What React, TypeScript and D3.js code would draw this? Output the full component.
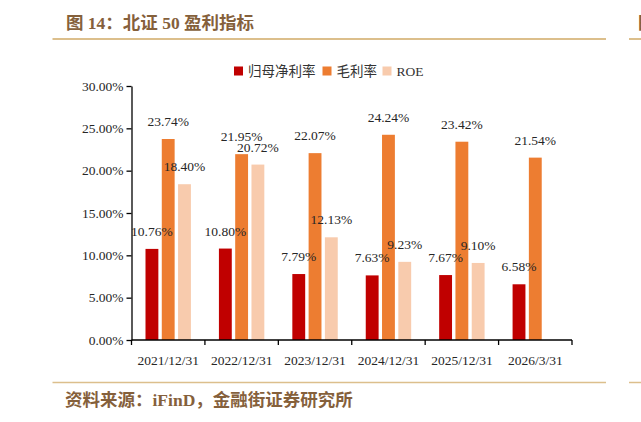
import React, { useEffect, useRef } from 'react';
import * as d3 from 'd3';

const categories = ['2021/12/31', '2022/12/31', '2023/12/31', '2024/12/31', '2025/12/31', '2026/3/31'];
const seriesNames = ['归母净利率', '毛利率', 'ROE'];
const netMargin = [10.76, 10.8, 7.79, 7.63, 7.67, 6.58];
const grossMargin = [23.74, 21.95, 22.07, 24.24, 23.42, 21.54];
const roe: (number | null)[] = [18.4, 20.72, 12.13, 9.23, 9.1, null];
const yTicks = [0, 5, 10, 15, 20, 25, 30];
const colors = ['#C00000', '#ED7D31', '#F8CBAD'];

const W = 641;
const H = 422;
const SERIF = '"Liberation Serif", "Times New Roman", "Noto Sans CJK SC", serif';
const BROWN = '#85603b';
const RULE = '#dcbf8c';

const App = () => {
    const svgRef = useRef(null);

    useEffect(() => {
        document.body.style.margin = '0';
        const svg = d3.select(svgRef.current);
        svg.selectAll('*').remove();

        const left = 131.5, right = 572, top = 86, bottom = 340;

        const x0 = d3.scaleBand<string>().domain(categories).range([left, right]);
        const x1 = d3.scaleBand<string>()
            .domain(seriesNames)
            .range([14, x0.bandwidth() - 14])
            .paddingInner(0.21);
        const y = d3.scaleLinear().domain([0, 30]).range([bottom, top]);

        // header / footer rules
        svg.append('text')
            .attr('x', 66).attr('y', 28.5)
            .attr('font-family', SERIF).attr('font-size', 17.5).attr('font-weight', 'bold')
            .attr('fill', BROWN)
            .text('图 14：北证 50 盈利指标');
        svg.append('text')
            .attr('x', 638).attr('y', 28.5)
            .attr('font-family', SERIF).attr('font-size', 17.5).attr('font-weight', 'bold')
            .attr('fill', BROWN)
            .text('图');
        [[52.5, 606], [629, 641]].forEach(([a, b]) => {
            svg.append('line').attr('x1', a).attr('x2', b).attr('y1', 39).attr('y2', 39)
                .attr('stroke', RULE).attr('stroke-width', 2);
            svg.append('line').attr('x1', a).attr('x2', b).attr('y1', 382.5).attr('y2', 382.5)
                .attr('stroke', RULE).attr('stroke-width', 1.5);
        });
        svg.append('text')
            .attr('x', 65).attr('y', 406)
            .attr('font-family', SERIF).attr('font-size', 17.5).attr('font-weight', 'bold')
            .attr('fill', BROWN)
            .text('资料来源：iFinD，金融街证券研究所');

        // legend
        const legendX = [234, 322.5, 382.5];
        seriesNames.forEach((name, i) => {
            svg.append('rect')
                .attr('x', legendX[i]).attr('y', 66.5)
                .attr('width', 9).attr('height', 9)
                .attr('fill', colors[i]);
            svg.append('text')
                .attr('x', legendX[i] + 14).attr('y', 76)
                .attr('font-family', SERIF).attr('font-size', 13.5)
                .attr('fill', '#333')
                .text(name);
        });

        const g = svg.append('g');

        // bars + labels
        const seriesValues = [netMargin, grossMargin, roe];
        seriesValues.forEach((vals, si) => {
            categories.forEach((c, ci) => {
                const v = vals[ci];
                if (v == null) return;
                const bx = (x0(c) as number) + (x1(seriesNames[si]) as number);
                g.append('rect')
                    .attr('x', bx).attr('y', y(v))
                    .attr('width', x1.bandwidth()).attr('height', y(0) - y(v))
                    .attr('fill', colors[si]);
            });
        });
        seriesValues.forEach((vals, si) => {
            categories.forEach((c, ci) => {
                const v = vals[ci];
                if (v == null) return;
                const cx = (x0(c) as number) + (x1(seriesNames[si]) as number) + x1.bandwidth() / 2;
                g.append('text')
                    .attr('x', cx).attr('y', y(v) - 13)
                    .attr('text-anchor', 'middle')
                    .attr('font-family', SERIF).attr('font-size', 13.5)
                    .attr('fill', '#262626')
                    .text(v.toFixed(2) + '%');
            });
        });

        // y axis
        const yAxis = d3.axisLeft(y)
            .tickValues(yTicks)
            .tickSize(5)
            .tickSizeOuter(0)
            .tickPadding(3)
            .tickFormat(d => (d as number).toFixed(2) + '%');
        const ya = g.append('g').attr('transform', `translate(${left},0)`).call(yAxis);
        ya.select('.domain').attr('stroke', '#000').attr('stroke-width', 1.3);
        ya.selectAll('line').attr('stroke', '#000').attr('stroke-width', 1.3);
        ya.selectAll('text').attr('font-family', SERIF).attr('font-size', 13.5).attr('fill', '#262626');

        // x axis: ticks on band edges, labels at centres
        const xAxis = d3.axisBottom(x0).tickSize(0).tickPadding(15);
        const xa = g.append('g').attr('transform', `translate(0,${bottom})`).call(xAxis);
        xa.select('.domain').remove();
        xa.selectAll('text').attr('font-family', SERIF).attr('font-size', 13.5).attr('fill', '#262626');
        g.append('line')
            .attr('x1', left).attr('x2', right).attr('y1', bottom).attr('y2', bottom)
            .attr('stroke', '#000').attr('stroke-width', 1.3);
        const edges = [...categories.map(c => x0(c) as number), right];
        edges.forEach(ex => {
            g.append('line')
                .attr('x1', ex).attr('x2', ex).attr('y1', bottom).attr('y2', bottom + 5)
                .attr('stroke', '#000').attr('stroke-width', 1.3);
        });
    }, []);

    return (
        <div style={{ position: 'absolute', left: 0, top: 0, width: W, height: H, background: '#fff' }}>
            <svg ref={svgRef} width={W} height={H} viewBox={`0 0 ${W} ${H}`} style={{ display: 'block' }} />
        </div>
    );
};

export default App;
